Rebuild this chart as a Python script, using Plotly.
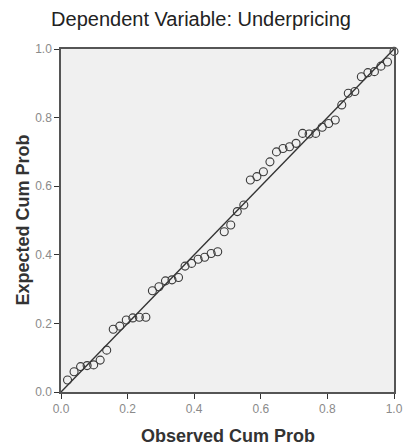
import plotly.graph_objects as go

n = 51
observed = [i / n for i in range(1, n + 1)]
expected = [
    0.035, 0.059, 0.074, 0.077, 0.079, 0.093, 0.122, 0.183, 0.192, 0.210,
    0.216, 0.218, 0.218, 0.295, 0.307, 0.324, 0.327, 0.334, 0.367, 0.375,
    0.387, 0.393, 0.404, 0.409, 0.467, 0.487, 0.526, 0.545, 0.618, 0.628,
    0.642, 0.671, 0.700, 0.710, 0.715, 0.725, 0.754, 0.752, 0.754, 0.772,
    0.783, 0.793, 0.837, 0.871, 0.876, 0.919, 0.931, 0.934, 0.950, 0.962,
    0.993,
]
line_x = [0, 1]
line_y = [0, 1]
ticks = [0.0, 0.2, 0.4, 0.6, 0.8, 1.0]
tick_text = ["0.0", "0.2", "0.4", "0.6", "0.8", "1.0"]

FONT = "Liberation Sans, Arial, sans-serif"

fig = go.Figure()
fig.add_trace(go.Scatter(x=line_x, y=line_y, mode="lines",
                         line=dict(color="#333333", width=1.4),
                         hoverinfo="skip", showlegend=False, cliponaxis=False))
fig.add_trace(go.Scatter(x=observed, y=expected, mode="markers",
                         marker=dict(symbol="circle-open", size=8, color="#3a3a3a",
                                     line=dict(width=1.1, color="#3a3a3a")),
                         showlegend=False, cliponaxis=False))

axis_common = dict(range=[0, 1], tickvals=ticks, ticktext=tick_text,
                   ticks="outside", ticklen=5, tickwidth=1.2, tickcolor="#333333",
                   showline=True, linecolor="#555555", linewidth=1.5, mirror=True,
                   showgrid=False, zeroline=False,
                   tickfont=dict(family=FONT, size=12, color="#8a8a8a"))

fig.update_layout(
    width=411, height=447,
    margin=dict(l=61, r=8, t=49, b=55),
    paper_bgcolor="white", plot_bgcolor="#f0f0f0",
    xaxis=axis_common, yaxis=axis_common,
    title=dict(text="Dependent Variable: Underpricing", x=201 / 411, xanchor="center",
               y=1 - 19 / 447, yanchor="middle", yref="container",
               font=dict(family=FONT, size=20, color="#222222")),
    annotations=[
        dict(text="<b>Observed Cum Prob</b>", xref="paper", yref="paper",
             x=(232 - 61) / 342, y=(392 - 436) / 343, xanchor="center", yanchor="middle",
             showarrow=False,
             font=dict(family=FONT, size=18, color="#333333")),
        dict(text="<b>Expected Cum Prob</b>", xref="paper", yref="paper",
             x=(21 - 61) / 342, y=0.5, xanchor="center", yanchor="middle", textangle=-90,
             showarrow=False,
             font=dict(family=FONT, size=18, color="#333333")),
    ],
)

fig.write_html("out.html", config={"displayModeBar": False},
               post_script="document.body.style.margin='0';document.body.style.overflow='hidden';")
